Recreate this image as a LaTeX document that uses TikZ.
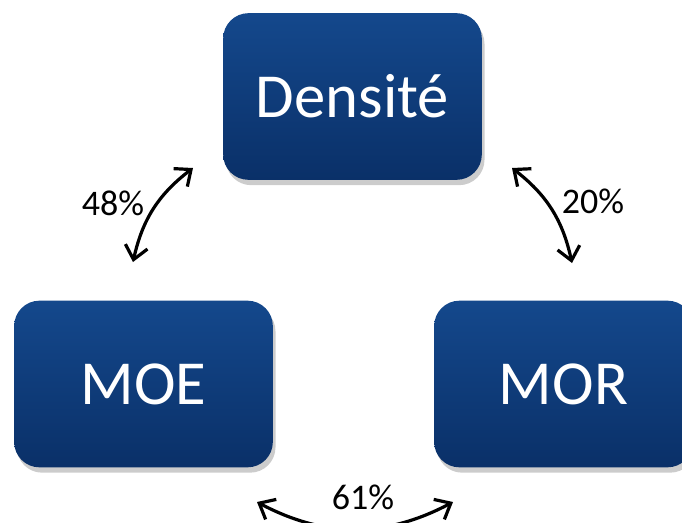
\documentclass[tikz,border=0pt]{standalone}
\usepackage{fontspec}
\setmainfont{Carlito}
\usetikzlibrary{arrows.meta,shadows}

\definecolor{boxtop}{RGB}{20,72,140}
\definecolor{boxbot}{RGB}{10,48,104}

\tikzset{every picture/.style={line width=0.75pt}}
\tikzset{
  varbox/.style={rounded corners=19pt, minimum width=194pt, minimum height=125pt,
    top color=boxtop, bottom color=boxbot, text=white, font=\fontsize{47}{50}\selectfont,
    drop shadow={shadow xshift=2pt, shadow yshift=-4pt, fill=black, opacity=0.2}},
  pct/.style={font=\fontsize{27}{30}\selectfont, inner sep=0.75pt},
  link/.style={line width=2.4pt, {Straight Barb[length=10pt,width=17pt,line width=2.4pt]}-{Straight Barb[length=10pt,width=17pt,line width=2.4pt]}}
}

\begin{document}
\begin{tikzpicture}[x=0.75pt,y=0.75pt,yscale=-1,xscale=1]
\useasboundingbox (0,0) rectangle (682,522);
\clip (0,0) rectangle (682,522);

% Boxes
\node [varbox] (dens) at (352.5,96.5) {Densité};
\node [varbox] (moe) at (143.5,384) {MOE};
\node [varbox] (mor) at (563.5,384) {MOR};

% Arrow ends
\coordinate (a1) at (133,262);
\coordinate (a2) at (193,168);
\coordinate (b1) at (512,168);
\coordinate (b2) at (572,263);
\coordinate (c1) at (257,502);
\coordinate (c2) at (453,502);

% Arrows
\draw [link] (a1) to [bend right=20] (a2);
\draw [link] (b1) to [bend right=20] (b2);
\draw [link] (c1) to [bend left=28] (c2);

% Text Node
\node [pct] (p48) at (113,203) {48\%};
% Text Node
\node [pct] (p20) at (593,201) {20\%};
% Text Node
\node [pct] (p61) at (363,497) {61\%};

\end{tikzpicture}
\end{document}
